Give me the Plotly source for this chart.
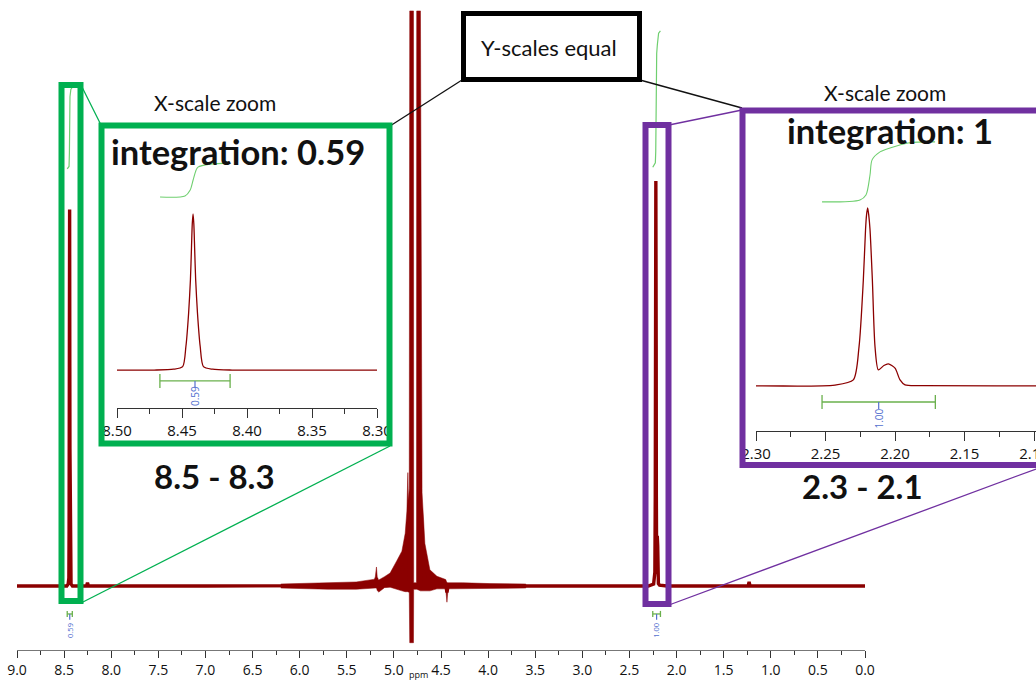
import plotly.graph_objects as go

W, H = 1036, 681


def px(x):
    """pixel column -> paper x"""
    return x / W


def py(y):
    """pixel row (from top) -> paper y"""
    return 1 - y / H


# ---------------- spectrum (ppm, intensity; 2.22 ppm peak = 100) ----------------
spec_ppm = [
    9.00, 8.60, 8.4715, 8.4565, 8.4495, 8.4470, 8.4449, 8.4435, 8.4427, 8.4421, 8.4415,
    8.4409, 8.4403, 8.4395, 8.4381, 8.4360, 8.4335, 8.4265, 8.4115, 8.30, 8.262, 8.252, 8.242,
    7.00, 6.20, 5.70, 5.40, 5.20, 5.185, 5.175, 5.160, 5.10, 5.04, 4.97, 4.915, 4.88, 4.862,
    4.852, 4.846, 4.837, 4.832, 4.792, 4.790, 4.760, 4.758, 4.718, 4.710, 4.701, 4.671,
    4.618, 4.543, 4.450, 4.437, 4.425, 4.268, 3.98,
    3.00, 2.300, 2.2432, 2.2300, 2.2259, 2.2228, 2.2212, 2.2205, 2.2197, 2.2189, 2.2180,
    2.2163, 2.2144, 2.2120, 2.2080, 2.2048, 2.2000, 2.1964, 2.1928, 2.180, 2.100,
    1.240, 1.230, 1.220, 0.00,
]
spec_int = [
    0, 0, 0, 0.5, 2, 14, 34, 54, 73, 87, 93,
    87, 73, 54, 34, 14, 2, 0.5, 0, 0, 0, 0.8, 0,
    0, 0, 0, 0.1, 0.6, 2, 0.2, 0, 0.9, 1.4, 2.7, 3.7, 5.8, 8.5,
    13, 10, 11, 0, 0, 0, 0, 0, 0, 19, 11, 4.6,
    1.4, 0.8, 0.5, -1.6, 0.1, 0, 0,
    0, 0, 0.5, 3.4, 22, 59.5, 88, 96, 100, 96, 88,
    59.5, 22, 9, 11.5, 12.4, 10, 3.4, 0.6, 0.2, 0,
    0, 1.0, 0, 0,
]

# noisy solvent (water) region: upper / lower envelope of the trace
water_ppm = [6.20, 5.70, 5.40, 5.20, 5.185, 5.175, 5.160, 5.10, 5.04, 4.97, 4.915, 4.88,
             4.862, 4.852, 4.846, 4.837, 4.832, 4.792, 4.790, 4.760, 4.758, 4.718,
             4.710, 4.701, 4.671, 4.618, 4.543, 4.450, 4.437, 4.425, 4.268, 3.98, 3.60]
water_upper = [0.5, 0.8, 1.0, 1.7, 4.7, 1.7, 1.5, 2.3, 3.2, 6.2, 8.6, 13,
               18.5, 28, 21, 24, 142, 142, 0.8, 0.8, 142, 142,
               40, 23, 10.5, 4.0, 2.4, 1.6, 0.8, 0.8, 0.8, 0.6, 0.5]
water_lower = [-0.5, -0.8, -0.8, -0.5, -0.5, -1.2, -1.5, -0.4, -0.3, -0.8, -1.2, -1.4,
               -1.4, -1.4, -1.4, -1.6, -14, -14, -0.8, -0.8, -0.8, -1.2,
               -1.2, -1.2, -1.2, -1.2, -0.7, -0.7, -4.0, -0.7, -0.7, -0.6, -0.5]

# integral curves
integral_a_ppm = [8.4669, 8.4477, 8.4438, 8.4415, 8.4392, 8.4377, 8.4285, 8.4131]
integral_a_val = [103.0, 103.6, 107.0, 113.0, 119.0, 120.8, 122.6, 123.2]
integral_b_ppm = [2.2525, 2.2252, 2.2209, 2.2180, 2.2165, 2.2108, 2.2036, 2.1906, 2.1712]
integral_b_val = [103.4, 104.5, 107.3, 118.5, 127.0, 131.5, 133.7, 136.5, 137.1]

integral_a_range = (8.467, 8.413)
integral_b_range = (2.2525, 2.171)
integral_a_label = "0.59"
integral_b_label = "1.00"

zoom_a = (8.50, 8.30)
zoom_b = (2.30, 2.10)

RED = "#8B0000"
GREEN_BOX = "#00B050"
PURPLE = "#7030A0"
INT_GREEN = "#6FCF6F"
BRACKET_GREEN = "#6AB04C"
BLUE = "#5470CF"
TXT = "#111111"
FONT = "Lato"
AXFONT = "Open Sans"

fig = go.Figure()

# main spectrum
fig.add_trace(go.Scatter(
    x=water_ppm + water_ppm[::-1], y=water_upper + water_lower[::-1],
    fill="toself", fillcolor=RED, line=dict(color=RED, width=0.5),
    mode="lines", xaxis="x", yaxis="y", hoverinfo="skip"))
fig.add_trace(go.Scatter(x=spec_ppm, y=spec_int, mode="lines",
                         line=dict(color=RED, width=3.4), xaxis="x", yaxis="y"))
fig.add_trace(go.Scatter(x=integral_a_ppm, y=integral_a_val, mode="lines",
                         line=dict(color=INT_GREEN, width=1.2), xaxis="x", yaxis="y"))
fig.add_trace(go.Scatter(x=integral_b_ppm, y=integral_b_val, mode="lines",
                         line=dict(color=INT_GREEN, width=1.2), xaxis="x", yaxis="y"))

# zoomed views
for xa, ya, ip, iv in (("x2", "y2", integral_a_ppm, integral_a_val),
                       ("x3", "y3", integral_b_ppm, integral_b_val)):
    fig.add_trace(go.Scatter(x=spec_ppm, y=spec_int, mode="lines",
                             line=dict(color=RED, width=1.3, shape="spline", smoothing=0.7),
                             xaxis=xa, yaxis=ya))
    fig.add_trace(go.Scatter(x=ip, y=iv, mode="lines",
                             line=dict(color=INT_GREEN, width=1.1, shape="spline", smoothing=0.8),
                             xaxis=xa, yaxis=ya))

axis_common = dict(showgrid=False, zeroline=False, showline=True, ticks="outside",
                   automargin=False, ticklabeloverflow="allow")

inset_axis = dict(dtick=0.05, tick0=0, tickformat=".2f", ticklen=9, tickwidth=1,
                  tickcolor="#333", linecolor="#333", linewidth=1,
                  tickfont=dict(family=AXFONT, size=15, color=TXT),
                  minor=dict(dtick=0.025, ticklen=5, ticks="outside", tickcolor="#333"),
                  **axis_common)

fig.update_layout(
    width=W, height=H, margin=dict(l=0, r=0, t=0, b=0),
    paper_bgcolor="white", plot_bgcolor="white", showlegend=False,
    xaxis=dict(domain=[px(17), px(865)], range=[9.0, 0.0], dtick=0.5, tick0=0,
               tickformat=".1f", ticklen=7, tickwidth=1, tickcolor="#333",
               linecolor="#777", linewidth=1,
               tickfont=dict(family=AXFONT, size=14, color=TXT),
               minor=dict(dtick=0.25, ticklen=4, ticks="outside", tickcolor="#333"),
               anchor="y", **axis_common),
    yaxis=dict(domain=[py(650), 1.0], range=[-15.8, 144.7], visible=False, anchor="x"),
    xaxis2=dict(domain=[px(117), px(377)], range=list(zoom_a), anchor="y2", **inset_axis),
    yaxis2=dict(domain=[py(408), py(130)], range=[-22.6, 142.9], visible=False, anchor="x2"),
    xaxis3=dict(domain=[px(756), 1.0], range=[2.30, 2.0986], anchor="y3", **inset_axis),
    yaxis3=dict(domain=[py(431), py(120)], range=[-25.3, 149.4], visible=False, anchor="x3"),
)

shapes = []


def bracket(xref, yref, rng, yv, cap, tick_to):
    lo, hi = rng
    mid = (lo + hi) / 2
    c = dict(color=BRACKET_GREEN, width=1.3)
    shapes.append(dict(type="line", xref=xref, yref=yref, x0=lo, x1=hi, y0=yv, y1=yv, line=c))
    for xv in (lo, hi):
        shapes.append(dict(type="line", xref=xref, yref=yref, x0=xv, x1=xv,
                           y0=yv - cap, y1=yv + cap, line=c))
    shapes.append(dict(type="line", xref=xref, yref=yref, x0=mid, x1=mid, y0=yv, y1=tick_to,
                       line=dict(color=BLUE, width=1.2)))


bracket("x", "y", integral_a_range, -6.9, 0.75, -8.3)
bracket("x", "y", integral_b_range, -6.9, 0.75, -8.3)
bracket("x2", "y2", integral_a_range, -6.5, 4.2, -10.1)
bracket("x3", "y3", integral_b_range, -9.0, 3.9, -13.0)


def rect(x0, y0, x1, y1, color, width):
    shapes.append(dict(type="rect", xref="paper", yref="paper",
                       x0=px(x0), x1=px(x1), y0=py(y0), y1=py(y1),
                       line=dict(color=color, width=width), fillcolor="rgba(0,0,0,0)"))


def seg(x0, y0, x1, y1, color, width=1.3):
    shapes.append(dict(type="line", xref="paper", yref="paper",
                       x0=px(x0), x1=px(x1), y0=py(y0), y1=py(y1),
                       line=dict(color=color, width=width)))


# connectors
seg(81, 85, 101, 125, GREEN_BOX)
seg(81, 603, 390, 446, GREEN_BOX)
seg(669, 125, 742, 110, PURPLE)
seg(669, 605, 1036, 469, PURPLE)
seg(462, 80, 390, 126, "#111")
seg(640, 80, 742, 108, "#111")

# selection boxes and zoom frames
rect(61.5, 85, 80.5, 601, GREEN_BOX, 6)
rect(645.5, 125, 668.5, 604, PURPLE, 6)
rect(101.5, 125.5, 389.5, 443.5, GREEN_BOX, 6)
rect(742.5, 110.5, 1045, 465, PURPLE, 6)
shapes.append(dict(type="rect", xref="paper", yref="paper",
                   x0=px(463.5), x1=px(639.5), y0=py(13.5), y1=py(79.5),
                   line=dict(color="#000", width=5), fillcolor="white"))

fig.update_layout(shapes=shapes)

ann = []


def text(x, y, s, size, bold=False, color=TXT, family=FONT, angle=0, xref="paper", yref="paper"):
    if xref == "paper":
        x = px(x)
    if yref == "paper":
        y = py(y)
    ann.append(dict(x=x, y=y, xref=xref, yref=yref, text=f"<b>{s}</b>" if bold else s,
                    showarrow=False, xanchor="center", yanchor="middle", textangle=angle,
                    font=dict(family=family, size=size, color=color)))


text(549, 48, "Y-scales equal", 22)
text(215, 102, "X-scale zoom", 21)
text(885, 93, "X-scale zoom", 21)
text(238, 152, "integration: " + integral_a_label.rstrip("0"), 34.5, bold=True)
text(890, 130, "integration: " + integral_b_label.split(".")[0], 34.5, bold=True)
text(214, 476, f"{zoom_a[0]:.1f} - {zoom_a[1]:.1f}", 33, bold=True)
text(862, 486, f"{zoom_b[0]:.1f} - {zoom_b[1]:.1f}", 33, bold=True)
text(418, 674, "ppm", 9, family=AXFONT)

mid_a = sum(integral_a_range) / 2
mid_b = sum(integral_b_range) / 2
text(mid_a, -10.9, integral_a_label, 7.5, color=BLUE, family=AXFONT, angle=-90, xref="x", yref="y")
text(mid_b, -10.9, integral_b_label, 7.5, color=BLUE, family=AXFONT, angle=-90, xref="x", yref="y")
text(mid_a, -15.5, integral_a_label, 10, color=BLUE, family=AXFONT, angle=-90, xref="x2", yref="y2")
text(mid_b, -18.5, integral_b_label, 10, color=BLUE, family=AXFONT, angle=-90, xref="x3", yref="y3")

fig.update_layout(annotations=ann)

fig.write_html("out.html")
